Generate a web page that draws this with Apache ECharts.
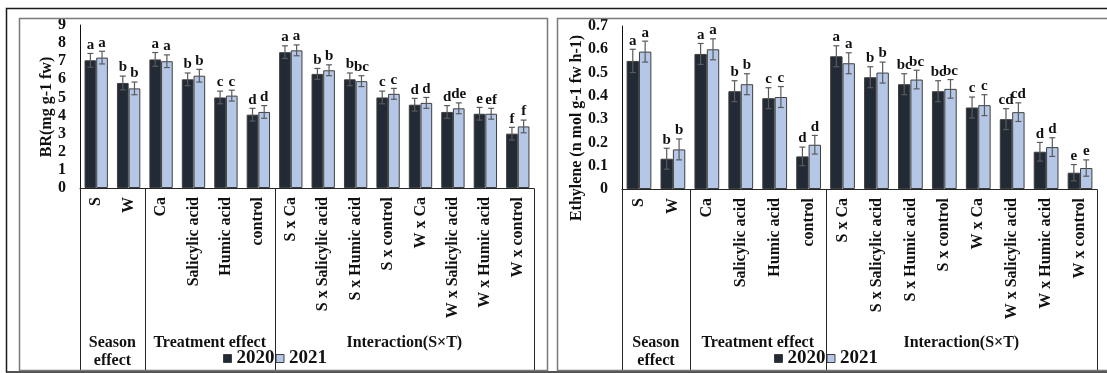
<!DOCTYPE html>
<html>
<head>
<meta charset="utf-8">
<script src="https://cdn.jsdelivr.net/npm/echarts@6/dist/echarts.min.js"></script>
<style>
  html, body { margin: 0; padding: 0; background: #fff; }
  #c { width: 1107px; height: 373px; }
</style>
</head>
<body>
<div id="c"></div>
<script>
// Categories shared by both panels
const categories = ['S', 'W', 'Ca', 'Salicylic acid', 'Humic acid', 'control',
  'S x Ca', 'S x Salicylic acid', 'S x Humic acid', 'S x control',
  'W x Ca', 'W x Salicylic acid', 'W x Humic acid', 'W x control'];
const groupNames = ['Season\neffect', 'Treatment effect', 'Interaction(S×T)'];
const groupSizes = [2, 4, 8];
const years = ['2020', '2021'];

// BR (mg g-1 fw)
const br2020 = [7.05, 5.8, 7.1, 6.0, 5.0, 4.05, 7.5, 6.3, 6.0, 5.0, 4.6, 4.2, 4.1, 3.0];
const br2021 = [7.2, 5.5, 7.0, 6.2, 5.1, 4.2, 7.6, 6.5, 5.9, 5.2, 4.7, 4.4, 4.1, 3.4];
const brErr2020 = [0.38, 0.38, 0.38, 0.35, 0.35, 0.35, 0.35, 0.3, 0.35, 0.35, 0.35, 0.35, 0.35, 0.35];
const brErr2021 = [0.35, 0.35, 0.35, 0.35, 0.3, 0.35, 0.3, 0.3, 0.3, 0.3, 0.3, 0.3, 0.3, 0.35];
const brLetters2020 = ['a', 'b', 'a', 'b', 'c', 'd', 'a', 'b', 'b', 'c', 'd', 'd', 'e', 'f'];
const brLetters2021 = ['a', 'b', 'a', 'b', 'c', 'd', 'a', 'b', 'bc', 'c', 'd', 'de', 'ef', 'f'];
const brTicks = { min: 0, max: 9, interval: 1 };

// Ethylene (n mol g-1 fw h-1)
const eth2020 = [0.55, 0.13, 0.58, 0.42, 0.39, 0.14, 0.57, 0.48, 0.45, 0.42, 0.35, 0.30, 0.16, 0.07];
const eth2021 = [0.59, 0.17, 0.60, 0.45, 0.395, 0.19, 0.54, 0.50, 0.47, 0.43, 0.36, 0.33, 0.18, 0.09];
const ethErr2020 = [0.05, 0.045, 0.045, 0.045, 0.045, 0.04, 0.045, 0.045, 0.045, 0.045, 0.045, 0.045, 0.04, 0.035];
const ethErr2021 = [0.045, 0.045, 0.045, 0.045, 0.045, 0.04, 0.045, 0.045, 0.04, 0.04, 0.045, 0.04, 0.04, 0.035];
const ethLetters2020 = ['a', 'b', 'a', 'b', 'c', 'd', 'a', 'b', 'bc', 'bc', 'c', 'cd', 'd', 'e'];
const ethLetters2021 = ['a', 'b', 'a', 'b', 'c', 'd', 'a', 'b', 'bc', 'bc', 'c', 'cd', 'd', 'e'];
const ethTicks = { min: 0, max: 0.7, interval: 0.1 };

const SERIF = "'Liberation Serif', 'Times New Roman', serif";
const COLORS = ['#222a35', '#b4c7e7'];
const BAR_EDGE = '#3f3f3f';
const ERR_COLOR = '#5a5a5a';
const BOX_BOTTOM = 370;     // lower edge of the category box
const GROUP_LABEL_TOP = 334;

const panels = [
  {
    grid: { left: 80, right: 573, top: 25, bottom: 185 },
    ticks: brTicks, gap: 0.28,
    values: [br2020, br2021], errors: [brErr2020, brErr2021], letters: [brLetters2020, brLetters2021],
    title: 'BR(mg g-1 fw)', titleX: 47, titleY: 107,
    legendLeft: 223,
    fmt: v => String(v)
  },
  {
    grid: { left: 622, right: 10, top: 26, bottom: 184 },
    ticks: ethTicks, gap: 0.27,
    values: [eth2020, eth2021], errors: [ethErr2020, ethErr2021], letters: [ethLetters2020, ethLetters2021],
    title: 'Ethylene (n mol g-1 fw h-1)', titleX: 577, titleY: 128,
    legendLeft: 774,
    fmt: v => (v === 0 ? '0' : v.toFixed(1))
  }
];

const chart = echarts.init(document.getElementById('c'), null, { renderer: 'canvas' });

const grids = [], xAxes = [], yAxes = [], series = [], legends = [];

panels.forEach((p, pi) => {
  grids.push(Object.assign({ containLabel: false }, p.grid));
  xAxes.push({
    type: 'category', gridIndex: pi, data: categories,
    axisLine: { show: true, lineStyle: { color: '#262626', width: 1 } },
    axisTick: { show: false },
    axisLabel: {
      interval: 0, rotate: 90, margin: 9,
      fontFamily: SERIF, fontWeight: 'bold', fontSize: 16, color: '#111'
    },
    splitLine: { show: false }
  });
  yAxes.push({
    type: 'value', gridIndex: pi,
    min: p.ticks.min, max: p.ticks.max, interval: p.ticks.interval,
    axisLine: { show: true, lineStyle: { color: '#111', width: 1 } },
    axisTick: { show: false },
    splitLine: { show: false },
    axisLabel: {
      margin: 14, fontFamily: SERIF, fontWeight: 'bold', fontSize: 16, color: '#111',
      formatter: p.fmt
    }
  });

  years.forEach((yr, yi) => {
    series.push({
      type: 'bar', name: yr, xAxisIndex: pi, yAxisIndex: pi,
      data: p.values[yi],
      barGap: '0%', barCategoryGap: (p.gap * 100) + '%',
      itemStyle: { color: COLORS[yi], borderColor: BAR_EDGE, borderWidth: 1 },
      emphasis: { disabled: true },
      animation: false
    });
    // error bars with significance letters on top
    const errs = p.errors[yi], lets = p.letters[yi], gap = p.gap;
    series.push({
      type: 'custom', name: 'err' + yr, xAxisIndex: pi, yAxisIndex: pi,
      silent: true, z: 5, animation: false,
      data: p.values[yi].map((v, i) => [i, v, errs[i]]),
      renderItem: (params, api) => {
        const i = api.value(0), v = api.value(1), e = api.value(2);
        const band = api.size([1, 0])[0];
        const bw = band * (1 - gap) / 2;
        const cx = api.coord([i, v])[0] + (yi === 0 ? -bw / 2 : bw / 2);
        const yTop = api.coord([i, v + e])[1];
        const yBot = api.coord([i, v - e])[1];
        const cap = 3;
        const ls = { stroke: ERR_COLOR, lineWidth: 1.2 };
        return {
          type: 'group',
          children: [
            { type: 'line', shape: { x1: cx, y1: yTop, x2: cx, y2: yBot }, style: ls },
            { type: 'line', shape: { x1: cx - cap, y1: yTop, x2: cx + cap, y2: yTop }, style: ls },
            { type: 'line', shape: { x1: cx - cap, y1: yBot, x2: cx + cap, y2: yBot }, style: ls },
            {
              type: 'text', x: cx, y: yTop - 1,
              style: {
                text: lets[params.dataIndex], fill: '#111',
                font: 'bold 15px ' + SERIF, align: 'center', verticalAlign: 'bottom'
              }
            }
          ]
        };
      }
    });
  });

  legends.push({
    data: years, left: p.legendLeft, top: 349, padding: 0,
    itemGap: 1, itemWidth: 8, itemHeight: 8, icon: 'rect',
    selectedMode: false,
    textStyle: { fontFamily: SERIF, fontWeight: 'bold', fontSize: 19, color: '#111' },
    itemStyle: { borderColor: BAR_EDGE, borderWidth: 1 }
  });
});

chart.setOption({
  backgroundColor: '#fff',
  animation: false,
  grid: grids, xAxis: xAxes, yAxis: yAxes, series: series, legend: legends
});

// Panel frames, category-group boxes, group names and axis titles
const graphics = [
  { type: 'rect', shape: { x: 6.5, y: 8.5, width: 1110, height: 363.5 }, style: { fill: null, stroke: '#1a1a1a', lineWidth: 1.5 }, z: 10 },
  { type: 'rect', shape: { x: 19.5, y: 18.5, width: 528, height: 352 }, style: { fill: null, stroke: '#7a7a7a', lineWidth: 1.5 }, z: 10 },
  { type: 'rect', shape: { x: 557.5, y: 18.5, width: 560, height: 352 }, style: { fill: null, stroke: '#7a7a7a', lineWidth: 1.5 }, z: 10 }
];

panels.forEach((p, pi) => {
  const cx = i => chart.convertToPixel({ xAxisIndex: pi }, i);
  const band = cx(1) - cx(0);
  const axisY = Math.round(chart.convertToPixel({ yAxisIndex: pi }, 0)) + 0.5;
  const edge = i => (i === 0 ? cx(0) - band / 2 : (i >= categories.length ? cx(categories.length - 1) + band / 2 : (cx(i - 1) + cx(i)) / 2));
  let start = 0;
  const lineStyle = { stroke: '#262626', lineWidth: 1 };
  graphics.push({ type: 'line', shape: { x1: Math.round(edge(0)) + 0.5, y1: axisY, x2: Math.round(edge(0)) + 0.5, y2: BOX_BOTTOM }, style: lineStyle, z: 9 });
  groupSizes.forEach((n, gi) => {
    const x0 = edge(start), x1 = edge(start + n);
    const xr = Math.round(x1) + 0.5;
    graphics.push({ type: 'line', shape: { x1: xr, y1: axisY, x2: xr, y2: BOX_BOTTOM }, style: lineStyle, z: 9 });
    graphics.push({
      type: 'text', x: (x0 + x1) / 2, y: GROUP_LABEL_TOP, z: 9,
      style: {
        text: groupNames[gi], fill: '#111', font: 'bold 16px ' + SERIF,
        align: 'center', verticalAlign: 'top', lineHeight: 18
      }
    });
    start += n;
  });
  graphics.push({
    type: 'text', x: p.titleX, y: p.titleY, rotation: Math.PI / 2, z: 9,
    style: {
      text: p.title, fill: '#111', font: 'bold 16px ' + SERIF,
      align: 'center', verticalAlign: 'middle'
    }
  });
});

chart.setOption({ graphic: graphics });
</script>
</body>
</html>
